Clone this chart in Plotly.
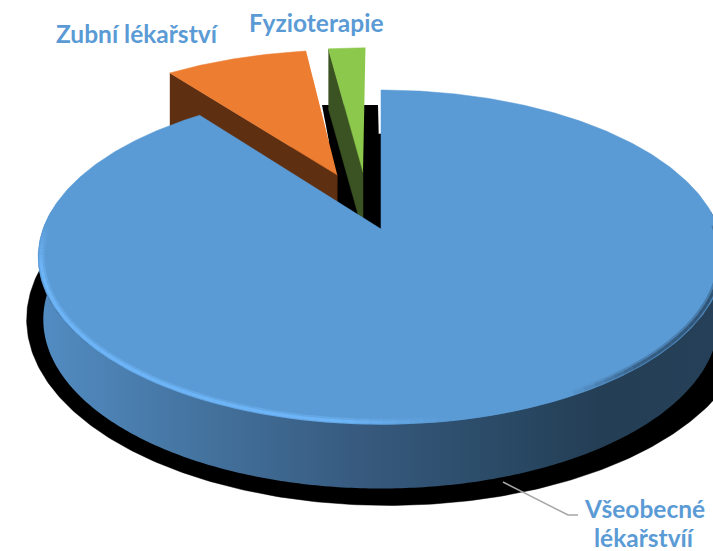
import numpy as np
import plotly.graph_objects as go

categories = ["Všeobecné lékařství", "Zubní lékařství", "Fyzioterapie"]
values = [89.6, 8.25, 2.15]
label_lines = [["Všeobecné", "lékařstvíí"], ["Zubní lékařství"], ["Fyzioterapie"]]

# Projection of the tilted disc to the picture
CX, CY, A, B, K = 381.0, 229.0, 338.0, 162.3, 0.1677
TOP_BLUE, TOP_ORANGE, TOP_GREEN = "#5b9bd5", "#ed7d31", "#8cc84b"
WALL_ORANGE, WALL_GREEN = "#5f2f12", "#3b5323"
EXPLODE = [(0.0, 0.0), (-0.137, 0.352), (-0.0566, 0.373)]


def project(u, v):
    u, v = np.asarray(u, float), np.asarray(v, float)
    d = 1 + K * v
    return CX + A * u / d, CY - B * v / d


def lower(x, y, v):
    return CX + (x - CX) * 0.985, y + 62 - 2.5 * np.asarray(v, float)


def lerp(stops, t):
    xs = [s[0] for s in stops]
    rgb = [np.interp(t, xs, [s[1][i] for s in stops]) for i in range(3)]
    return tuple(float(c) for c in rgb)


def css(c):
    return "rgb(%d,%d,%d)" % tuple(int(round(v)) for v in c)


total = sum(values)
edges = np.concatenate([[0], np.cumsum(values)]) / total * 2 * np.pi


def slice_model(i, n=220):
    th = np.linspace(edges[i], edges[i + 1], n)
    ox, oy = EXPLODE[i]
    return np.sin(th) + ox, np.cos(th) + oy, ox, oy


fig = go.Figure()


def poly(x, y, color, w=0.5):
    fig.add_trace(go.Scatter(
        x=list(x), y=list(y), mode="lines", fill="toself", fillcolor=color,
        line=dict(color=color, width=w), hoverinfo="skip", showlegend=False))


# Main slice geometry
ub, vb, _, _ = slice_model(0, 500)
xt, yt = project(ub, vb)
xl, yl = lower(xt, yt, vb)

# Drop shadow of the main slice
bcy = 319.0
poly(388 + (xl - CX) * 1.07, bcy + (yl - bcy) * 1.10, "#000000")

# Shadow behind the exploded slices
fig.add_shape(type="path", path="M322,105 L378,105 L381,229 L340,200 Z",
              fillcolor="#000000", line=dict(width=0), layer="below")

# Exploded slices: cut wall first, then top surface
for i, top, wall in [(1, TOP_ORANGE, WALL_ORANGE), (2, TOP_GREEN, WALL_GREEN)]:
    um, vm, ox, oy = slice_model(i)
    xs, ys = project(um, vm)
    tx, ty = project([ox], [oy])
    wx = [xs[0], tx[0], tx[0], xs[0]]
    wy = [ys[0], ty[0], ty[0] + 60, ys[0] + 60]
    poly(wx, wy, wall)
    poly(np.r_[tx, xs], np.r_[ty, ys], top)

# Side of the main slice with a horizontal gradient
front = np.where(vb < 0.12)[0]
sx = np.r_[xt[front], xl[front][::-1]]
sy = np.r_[yt[front], yl[front][::-1]]
side_stops = [(42, "#528cc2"), (200, "#44739f"), (360, "#375a7e"),
              (500, "#2a4a66"), (600, "#243e55"), (730, "#254058")]
lo, hi = side_stops[0][0], side_stops[-1][0]
fig.add_trace(go.Scatter(
    x=list(sx), y=list(sy), mode="none", fill="toself",
    fillgradient=dict(type="horizontal", start=lo, stop=hi,
                      colorscale=[[(p - lo) / (hi - lo), c] for p, c in side_stops]),
    hoverinfo="skip", showlegend=False))

# Top surface of the main slice
poly(np.r_[CX, xt, CX], np.r_[CY, yt, CY], TOP_BLUE)

# Lit, bevelled rim of the main slice
BLUE = (91, 155, 213)
rim_stops = [(38, (110, 181, 248)), (340, (110, 181, 248)), (440, (91, 155, 213)),
             (570, (91, 155, 213)), (640, (55, 96, 135)), (730, (45, 80, 112))]
rim = np.where(vb < 0.03)[0]
step = 3
for width, mix in [(6, 0.45), (3, 1.0)]:
    for j in range(rim[0], rim[-1], step):
        k = min(j + step + 1, len(xt))
        x_mid = xt[j:k].mean()
        c = lerp(rim_stops, x_mid)
        fade = np.clip((0.03 - vb[j:k].mean()) / 0.25, 0, 1) if x_mid < CX else 1.0
        c = tuple(b + (v - b) * mix * fade for v, b in zip(c, BLUE))
        shrink = 0.99 if width == 6 else 0.992
        rx, ry = project(ub[j:k] * shrink, vb[j:k] * shrink)
        fig.add_trace(go.Scatter(x=rx, y=ry, mode="lines",
                                 line=dict(color=css(c), width=width),
                                 hoverinfo="skip", showlegend=False))

# Leader line
fig.add_trace(go.Scatter(x=[503, 568, 578], y=[482, 515, 515], mode="lines",
                         line=dict(color="#a6a6a6", width=1.5), hoverinfo="skip", showlegend=False))

# Labels
positions = {0: [(644, 508), (644, 537)], 1: [(137, 33)], 2: [(316, 22)]}
for i, lines in enumerate(label_lines):
    for txt, (x, y) in zip(lines, positions[i]):
        fig.add_annotation(x=x, y=y, text="<b>%s</b>" % txt, showarrow=False,
                           font=dict(family="Lato", size=24.5, color=TOP_BLUE),
                           xanchor="center", yanchor="middle")

fig.update_layout(
    width=713, height=551, margin=dict(l=0, r=0, t=0, b=0),
    paper_bgcolor="white", plot_bgcolor="white", showlegend=False,
    xaxis=dict(range=[0, 713], visible=False, fixedrange=True),
    yaxis=dict(range=[551, 0], visible=False, fixedrange=True),
)
fig.write_html("out.html", config=dict(displayModeBar=False),
               post_script="document.body.style.margin='0';")
